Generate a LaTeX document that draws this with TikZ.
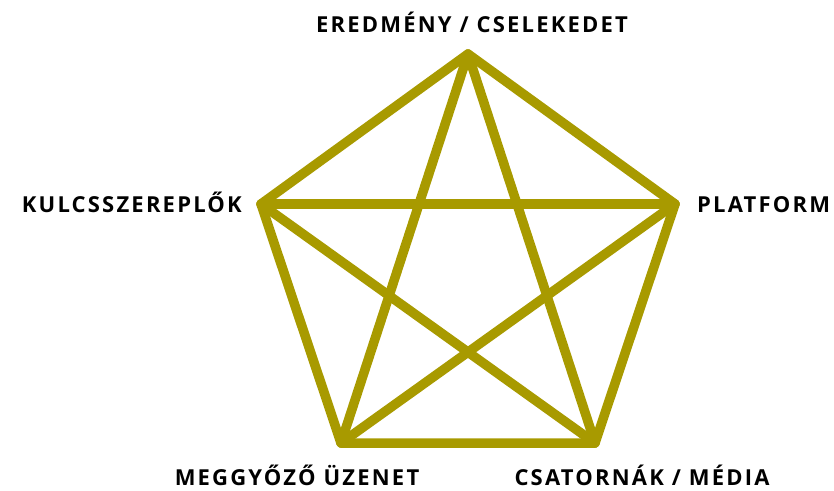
\documentclass[tikz,border=0pt]{standalone}
\usepackage{fontspec}
\setmainfont{Open Sans}
\usetikzlibrary{positioning}
\definecolor{olive}{RGB}{168,154,0}

\begin{document}
\begin{tikzpicture}[x=1pt, y=-1pt,
    lbl/.style={font=\fontsize{22}{26}\selectfont\addfontfeature{LetterSpace=10}\bfseries, text=black, inner sep=0pt, anchor=base},
    edge/.style={draw=olive, line width=9.5pt, line cap=round, line join=round}]
    \useasboundingbox (0,0) rectangle (834,490);
    % Corners
    \coordinate (top) at (468,54);
    \coordinate (left) at (261,204);
    \coordinate (right) at (675,204);
    \coordinate (botl) at (341,443);
    \coordinate (botr) at (595,443);

    % Labels
    \node[lbl] (ltop) at (472,32) {EREDMÉNY / CSELEKEDET};
    \node[lbl, anchor=base east] (lleft) at (242,212) {KULCSSZEREPLŐK};
    \node[lbl, anchor=base west] (lright) at (697,212) {PLATFORM};
    \node[lbl] (lbotl) at (297,485) {MEGGYŐZŐ ÜZENET};
    \node[lbl] (lbotr) at (642,485) {CSATORNÁK / MÉDIA};

    % Lines
    \draw[edge] (top) -- (right) -- (botr) -- (botl) -- (left) -- cycle;
    \draw[edge] (top) -- (botl);
    \draw[edge] (top) -- (botr);
    \draw[edge] (left) -- (right);
    \draw[edge] (left) -- (botr);
    \draw[edge] (right) -- (botl);
\end{tikzpicture}
\end{document}
